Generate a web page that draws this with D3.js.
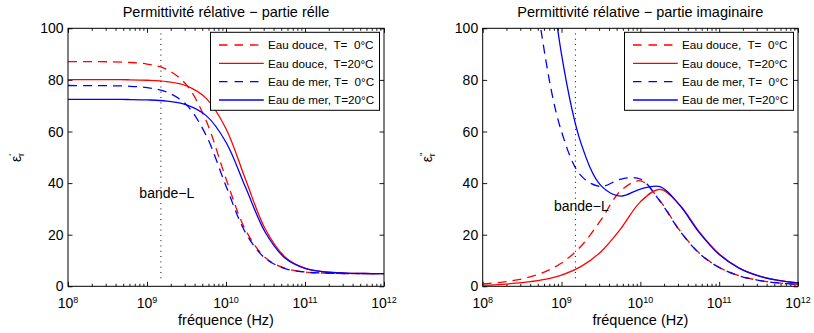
<!DOCTYPE html>
<html><head><meta charset="utf-8">
<script src="https://cdn.jsdelivr.net/npm/d3@7"></script>
<style>
body{margin:0;background:#fff;}
svg text{font-family:"Liberation Sans",Arial,Helvetica,sans-serif;fill:#000;}
</style></head><body>
<svg id="chart" width="814" height="333"></svg>
<script>
// ---------- data ----------
const frequencies = [1e8, 1.778e8, 3.162e8, 5.623e8, 1e9, 1.778e9, 3.162e9, 5.623e9,
  1e10, 1.778e10, 3.162e10, 5.623e10, 1e11, 1.778e11, 3.162e11, 5.623e11, 1e12];

const seriesLabels = ["Eau douce,  T=  0°C", "Eau douce,  T=20°C", "Eau de mer, T=  0°C", "Eau de mer, T=20°C"];
const seriesColors = ["#ff0000", "#ff0000", "#0000ff", "#0000ff"];
const seriesDashed = [true, false, true, false];

// real part
const realFresh0  = [87.12, 87.10, 87.03, 86.81, 86.13, 84.04, 78.10, 64.05, 41.70, 21.67, 11.06, 6.95, 5.56, 5.11, 4.97, 4.92, 4.91];
const realFresh20 = [80.13, 80.12, 80.10, 80.05, 79.87, 79.33, 77.66, 72.83, 61.06, 41.17, 22.01, 11.31, 7.05, 5.59, 5.12, 4.97, 4.92];
const realSea0    = [77.82, 77.80, 77.75, 77.57, 77.00, 75.28, 70.33, 58.42, 38.87, 20.66, 10.75, 6.86, 5.53, 5.10, 4.96, 4.92, 4.91];
const realSea20   = [72.47, 72.46, 72.45, 72.40, 72.25, 71.78, 70.34, 66.15, 55.85, 38.17, 20.76, 10.87, 6.91, 5.55, 5.11, 4.97, 4.92];

// imaginary part
const imagFresh0  = [0.91, 1.62, 2.89, 5.12, 9.03, 15.64, 25.72, 36.95, 40.89, 33.13, 21.65, 12.83, 7.34, 4.15, 2.34, 1.32, 0.74];
const imagFresh20 = [0.44, 0.78, 1.39, 2.46, 4.37, 7.71, 13.41, 22.26, 32.73, 37.59, 31.54, 21.00, 12.54, 7.19, 4.07, 2.29, 1.29];
const imagSea0    = [523.1, 295.1, 167.6, 97.3, 59.96, 42.78, 38.68, 41.52, 41.60, 32.96, 21.46, 12.71, 7.27, 4.11, 2.32, 1.30, 0.73];
const imagSea20   = [861.0, 484.7, 273.4, 155.2, 89.91, 55.19, 39.03, 34.98, 37.70, 38.62, 31.36, 20.71, 12.34, 7.07, 4.00, 2.26, 1.27];

const yTicks = [0, 20, 40, 60, 80, 100];
const xTickExponents = [8, 9, 10, 11, 12];
const titles = ["Permittivité rélative \u2212 partie rélle", "Permittivité rélative \u2212 partie imaginaire"];
const yPrimes = ["'", "''"];
const xLabel = "fréquence (Hz)";

// L-band marker
const bandLFreq = 1.5e9;
const bandLLineRange = [2, 98];
const bandLText = "bande\u2212L";
const bandLTextFreq = 8e8;
const bandLTextY = [36, 31];

// ---------- layout ----------
const svg = d3.select("#chart");
const plotTop = 28.3, plotBottom = 286.3;
const panels = [
  {left: 68, right: 384, ylabX: 20.5, series: [realFresh0, realFresh20, realSea0, realSea20]},
  {left: 482.7, right: 798, ylabX: 431.7, series: [imagFresh0, imagFresh20, imagSea0, imagSea20]}
];

panels.forEach((p, pi) => {
  const g = svg.append("g");
  const x = d3.scaleLog().domain([1e8, 1e12]).range([p.left, p.right]);
  const y = d3.scaleLinear().domain([0, 100]).range([plotBottom, plotTop]);

  const clipId = "clip" + pi;
  svg.append("clipPath").attr("id", clipId).append("rect")
    .attr("x", p.left).attr("y", plotTop).attr("width", p.right - p.left).attr("height", plotBottom - plotTop);

  const minor = [];
  for (let e = 8; e < 12; e++) for (let k = 2; k <= 9; k++) minor.push(k * Math.pow(10, e));
  const major = xTickExponents.map(e => Math.pow(10, e));

  const axB = g.append("g").attr("transform", `translate(0,${plotBottom})`)
    .call(d3.axisBottom(x).tickValues(major).tickSizeInner(-4.5).tickSizeOuter(0).tickFormat(""));
  const axBm = g.append("g").attr("transform", `translate(0,${plotBottom})`)
    .call(d3.axisBottom(x).tickValues(minor).tickSizeInner(-2.5).tickSizeOuter(0).tickFormat(""));
  const axT = g.append("g").attr("transform", `translate(0,${plotTop})`)
    .call(d3.axisTop(x).tickValues(major).tickSizeInner(-4.5).tickSizeOuter(0).tickFormat(""));
  const axTm = g.append("g").attr("transform", `translate(0,${plotTop})`)
    .call(d3.axisTop(x).tickValues(minor).tickSizeInner(-2.5).tickSizeOuter(0).tickFormat(""));
  const axL = g.append("g").attr("transform", `translate(${p.left},0)`)
    .call(d3.axisLeft(y).tickValues(yTicks).tickSizeInner(-4.5).tickSizeOuter(0).tickFormat(""));
  const axR = g.append("g").attr("transform", `translate(${p.right},0)`)
    .call(d3.axisRight(y).tickValues(yTicks).tickSizeInner(-4.5).tickSizeOuter(0).tickFormat(""));
  [axB, axBm, axT, axTm, axL, axR].forEach(a => {
    a.select(".domain").remove();
    a.selectAll("line").attr("stroke", "#000").attr("stroke-width", 0.9);
  });

  const xl = g.selectAll("text.xtl").data(xTickExponents).enter().append("text")
    .attr("class", "xtl").attr("x", d => x(Math.pow(10, d))).attr("y", 308.3)
    .attr("text-anchor", "middle").style("font-size", "14px");
  xl.append("tspan").text("10");
  xl.append("tspan").attr("dy", -5.5).style("font-size", "9px").text(d => d);

  g.selectAll("text.ytl").data(yTicks).enter().append("text")
    .attr("class", "ytl").attr("x", p.left - 4.5).attr("y", d => y(d)).attr("dy", "0.36em")
    .attr("text-anchor", "end").style("font-size", "14px").text(d => d);

  const line = d3.line().x(d => x(d[0])).y(d => y(d[1])).curve(d3.curveCatmullRom.alpha(0.5));
  const cg = g.append("g").attr("clip-path", `url(#${clipId})`);
  p.series.forEach((s, i) => {
    cg.append("path").datum(frequencies.map((f, j) => [f, s[j]]))
      .attr("d", line).attr("fill", "none")
      .attr("stroke", seriesColors[i]).attr("stroke-width", 1.3)
      .attr("stroke-dasharray", seriesDashed[i] ? "9,6" : null);
  });

  g.append("line").attr("x1", x(bandLFreq)).attr("x2", x(bandLFreq))
    .attr("y1", y(bandLLineRange[1])).attr("y2", y(bandLLineRange[0]))
    .attr("stroke", "#000").attr("stroke-width", 1).attr("stroke-dasharray", "1,4.3");
  g.append("text").attr("x", x(bandLTextFreq)).attr("y", y(bandLTextY[pi])).attr("dy", "0.36em")
    .style("font-size", "14px").text(bandLText);

  g.append("rect").attr("x", p.left).attr("y", plotTop).attr("width", p.right - p.left).attr("height", plotBottom - plotTop)
    .attr("fill", "none").attr("stroke", "#000").attr("stroke-width", 1);

  g.append("text").attr("x", (p.left + p.right) / 2).attr("y", 17).attr("text-anchor", "middle")
    .style("font-size", "14.5px").text(titles[pi]);
  g.append("text").attr("x", (p.left + p.right) / 2).attr("y", 324.5).attr("text-anchor", "middle")
    .style("font-size", "14.5px").text(xLabel);

  const yl = g.append("text").attr("transform", `translate(${p.ylabX},157.5) rotate(-90)`)
    .attr("text-anchor", "middle").style("font-size", "14px");
  yl.append("tspan").text("\u03b5");
  yl.append("tspan").attr("dy", -6).style("font-size", "9px").text(yPrimes[pi]);
  yl.append("tspan").attr("dx", pi === 0 ? -2 : -3.5).attr("dy", 9).style("font-size", "9px").text("r");

  const lw = 169, lh = 78;
  const lx = p.right - 4.5 - lw, ly = plotTop + 4;
  const lg = g.append("g").attr("transform", `translate(${lx},${ly})`);
  lg.append("rect").attr("width", lw).attr("height", lh).attr("fill", "#fff")
    .attr("stroke", "#000").attr("stroke-width", 1);
  seriesLabels.forEach((lab, i) => {
    const cy = 12.7 + i * 18.33;
    lg.append("line").attr("x1", 8.5).attr("x2", 53.3).attr("y1", cy).attr("y2", cy)
      .attr("stroke", seriesColors[i]).attr("stroke-width", 1.3)
      .attr("stroke-dasharray", seriesDashed[i] ? "8.5,7" : null);
    lg.append("text").attr("x", 57.5).attr("y", cy).attr("dy", "0.36em")
      .style("font-size", "11.7px").style("white-space", "pre").text(lab);
  });
});
</script>
</body></html>
